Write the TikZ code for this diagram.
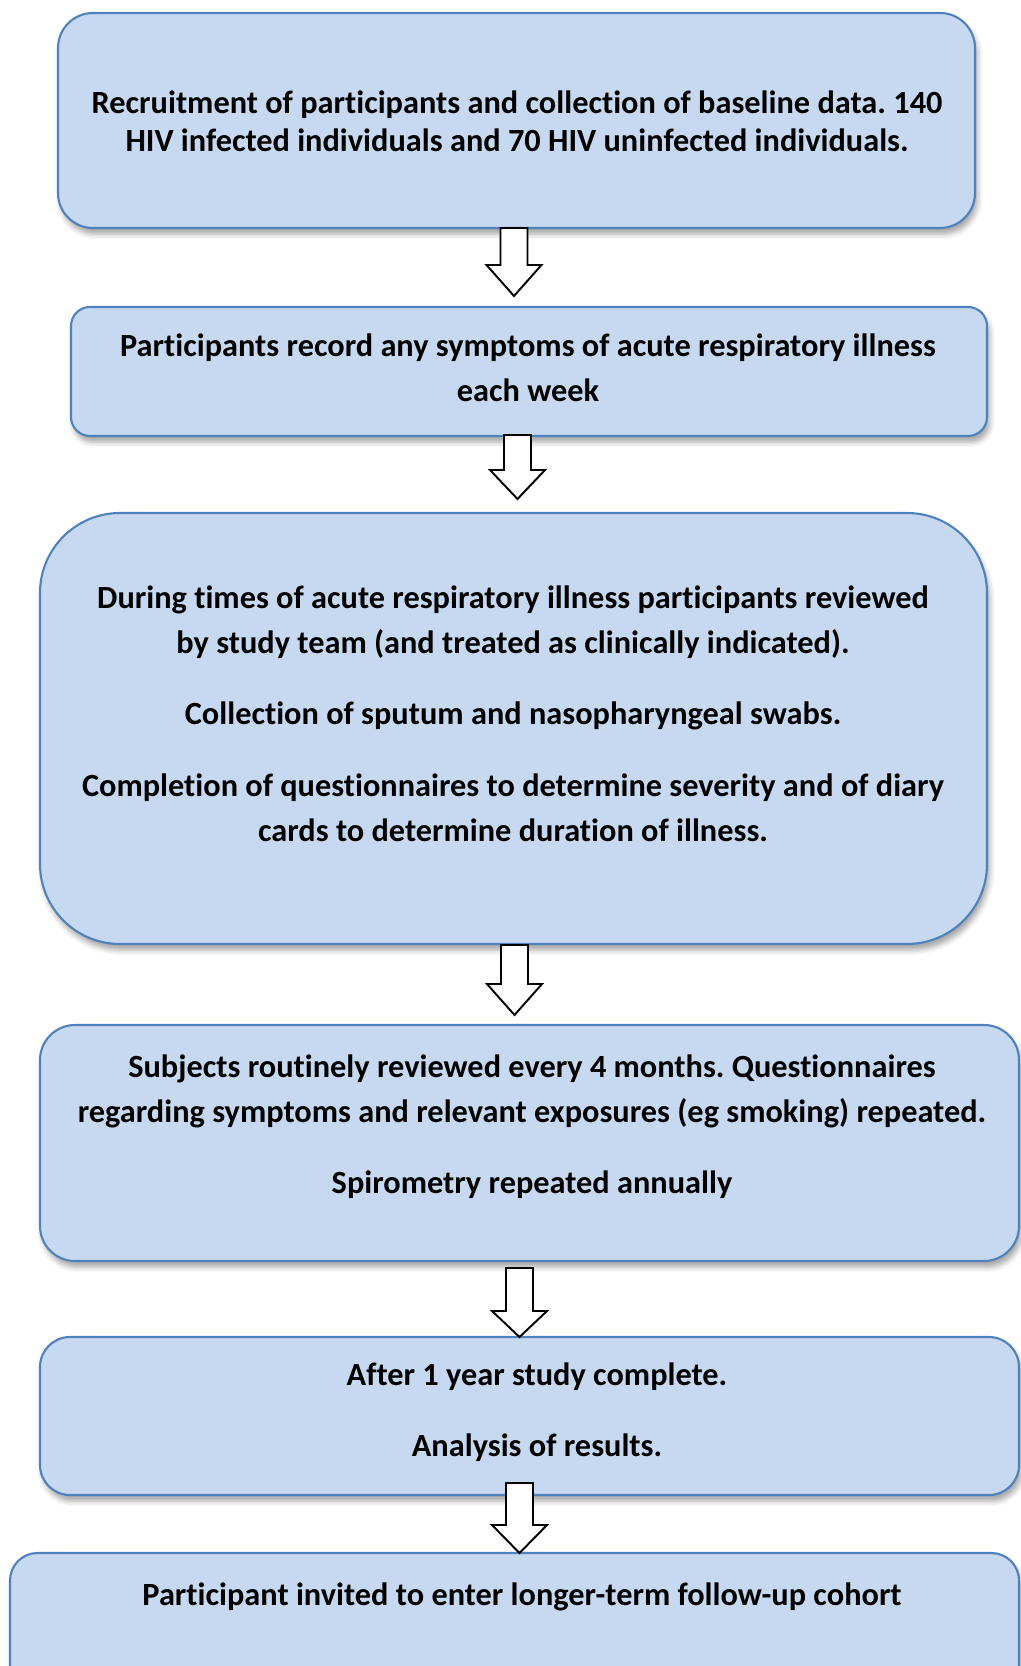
\documentclass[tikz,border=0pt]{standalone}
\usepackage{fontspec}
\setmainfont{Carlito}[Ligatures=NoCommon]
\frenchspacing
\usetikzlibrary{positioning,shadows.blur}
\definecolor{boxfill}{RGB}{198,217,241}
\definecolor{boxline}{RGB}{79,129,189}
\tikzset{
  stagebox/.style={draw=boxline,fill=boxfill,line width=1.2pt,inner sep=0pt,
    blur shadow={shadow xshift=1.5pt,shadow yshift=-3.5pt,shadow blur radius=3pt,shadow opacity=35}},
  stagetext/.style={font=\fontsize{18.4}{25.6}\selectfont\bfseries,align=center,text=black,inner sep=0pt},
  blockarr/.style={draw=black,fill=white,line width=1.1pt,line join=miter}
}

\begin{document}
\begin{tikzpicture}

\useasboundingbox (0,0) rectangle (20.42,-33.32);

% stage boxes
\node[stagebox,rounded corners=0.7cm,minimum width=18.34cm,minimum height=4.30cm] (recruit) at (10.33,-2.41) {};
\node[stagebox,rounded corners=0.38cm,minimum width=18.32cm,minimum height=2.58cm] (record) at (10.58,-7.43) {};
\node[stagebox,rounded corners=1.6cm,minimum width=18.94cm,minimum height=8.62cm] (review) at (10.27,-14.57) {};
\node[stagebox,rounded corners=0.7cm,minimum width=19.58cm,minimum height=4.72cm] (routine) at (10.59,-22.86) {};
\node[stagebox,rounded corners=0.6cm,minimum width=19.58cm,minimum height=3.16cm] (complete) at (10.59,-28.32) {};
\node[stagebox,rounded corners=0.55cm,minimum width=20.18cm,minimum height=3.44cm] (cohort) at (10.29,-32.78) {};

% texts
\node[stagetext,font=\fontsize{18.4}{21.6}\selectfont\bfseries] (recruitT) at (10.34,-2.42)
  {Recruitment of participants and collection of baseline data. 140\\
   HIV infected individuals and 70 HIV uninfected individuals.};
\node[stagetext] (recordT) at (10.56,-7.35)
  {Participants record any symptoms of acute respiratory illness\\ each week};
\node[stagetext] (reviewT) at (10.26,-14.27)
  {During times of acute respiratory illness participants reviewed\\
   by study team (and treated as clinically indicated).\\[15pt]
   Collection of sputum and nasopharyngeal swabs.\\[15pt]
   Completion of questionnaires to determine severity and of diary\\
   cards to determine duration of illness.};
\node[stagetext] (routineT) at (10.64,-22.53)
  {Subjects routinely reviewed every 4 months. Questionnaires\\
   regarding symptoms and relevant exposures (eg smoking) repeated.\\[15pt]
   Spirometry repeated annually};
\node[stagetext] (completeT) at (10.74,-28.25)
  {After 1 year study complete.\\[15pt] Analysis of results.};
\node[stagetext] (cohortT) at (10.44,-31.94)
  {Participant invited to enter longer-term follow-up cohort};

% block arrows
\foreach \x/\top/\neck/\tip in {10.28/-4.56/-5.30/-5.92,
                                10.35/-8.70/-9.40/-9.98,
                                10.29/-18.90/-19.68/-20.30,
                                10.39/-25.36/-26.22/-26.74,
                                10.39/-29.66/-30.50/-31.06}{
  \draw[blockarr] ({\x-0.27},\top) -- ({\x-0.27},\neck) -- ({\x-0.55},\neck)
    -- (\x,\tip) -- ({\x+0.55},\neck) -- ({\x+0.27},\neck) -- ({\x+0.27},\top) -- cycle;
}

\end{tikzpicture}
\end{document}
